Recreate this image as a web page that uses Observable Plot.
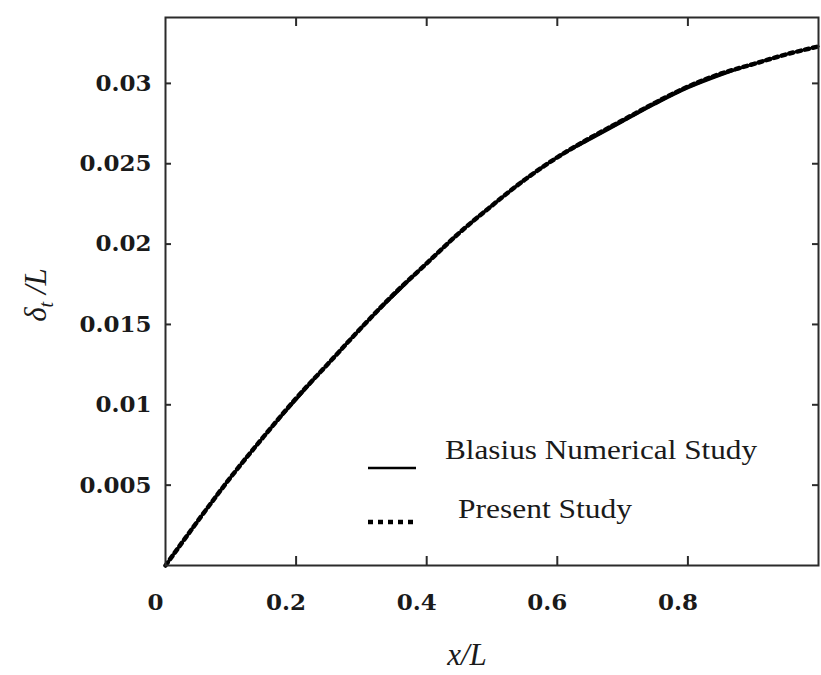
<!DOCTYPE html>
<html>
<head>
<meta charset="utf-8">
<script src="https://cdn.jsdelivr.net/npm/d3@7"></script>
<script src="https://cdn.jsdelivr.net/npm/@observablehq/plot@0.6"></script>
<style>
  html, body { margin: 0; padding: 0; background: #fff; }
  #chart { position: relative; width: 821px; height: 675px; }
</style>
</head>
<body>
<div id="chart"></div>
<script>
// x/L positions
const xPos = [0, 0.05, 0.1, 0.15, 0.2, 0.25, 0.3, 0.35, 0.4, 0.45, 0.5, 0.55, 0.6, 0.65, 0.7, 0.75, 0.8, 0.85, 0.9, 0.95, 1.0];
// Blasius numerical solution, delta_t / L
const blasius = [0, 0.0028, 0.0055, 0.0080, 0.0103, 0.0126, 0.0148, 0.0168, 0.0188, 0.0207, 0.0224, 0.0240, 0.0254, 0.0265, 0.0276, 0.0287, 0.0297, 0.0305, 0.0312, 0.0318, 0.0323];
// Present study, delta_t / L
const present = [0, 0.0028, 0.0055, 0.0080, 0.0104, 0.0126, 0.0148, 0.0169, 0.0188, 0.0207, 0.0224, 0.0240, 0.0254, 0.0266, 0.0277, 0.0288, 0.0298, 0.0306, 0.0312, 0.0318, 0.0323];
// tick values
const xTickLabels = [0, 0.2, 0.4, 0.6, 0.8];
const xTickMarks = [0.2, 0.4, 0.6, 0.8];
const yTicks = [0.005, 0.01, 0.015, 0.02, 0.025, 0.03];
// legend entries
const legendLabels = ["Blasius Numerical Study", "Present Study"];

const rows = xPos.map((x, i) => ({x, blasius: blasius[i], present: present[i]}));

const W = 821, H = 675, mL = 165, mR = 3, mT = 17, mB = 110;
const innerW = W - mL - mR, innerH = H - mT - mB;
const ink = "#2b2b2b";
const tickFont = "'DejaVu Serif', serif";

const plot = Plot.plot({
  width: W, height: H,
  marginLeft: mL, marginRight: mR, marginTop: mT, marginBottom: mB,
  x: {domain: [0, 1]},
  y: {domain: [0, 0.0341]},
  style: {fontFamily: "'Liberation Serif', 'DejaVu Serif', serif", color: "#1a1a1a", background: "#fff"},
  marks: [
    Plot.axisX(xTickLabels, {tickSize: 0, tickPadding: 28, fontSize: 23, dx: -10, tickFormat: d => String(d), label: null}),
    Plot.axisY(yTicks, {tickSize: 0, tickPadding: 14, fontSize: 23, tickFormat: d => String(d), label: null}),
    Plot.tickX(xTickMarks, {x: d => d, insetTop: innerH - 9, stroke: ink, strokeWidth: 2}),
    Plot.tickX(xTickMarks, {x: d => d, insetBottom: innerH - 9, stroke: ink, strokeWidth: 2}),
    Plot.tickY(yTicks, {y: d => d, insetRight: innerW - 6, stroke: ink, strokeWidth: 2}),
    Plot.tickY(yTicks, {y: d => d, insetLeft: innerW - 6, stroke: ink, strokeWidth: 2}),
    Plot.line(rows, {x: "x", y: "blasius", stroke: "#000", strokeWidth: 2.4, curve: "catmull-rom"}),
    Plot.line(rows, {x: "x", y: "present", stroke: "#000", strokeWidth: 4.5, strokeDasharray: "4,4", curve: "catmull-rom"}),
    Plot.frame({stroke: ink, strokeWidth: 2})
  ]
});

document.getElementById("chart").appendChild(plot);

const svg = d3.select(plot);
svg.selectAll("g[aria-label='x-axis tick label'], g[aria-label='y-axis tick label']")
  .attr("font-weight", "bold")
  .attr("font-family", tickFont);
svg.selectAll("g[aria-label='x-axis tick label'] text, g[aria-label='y-axis tick label'] text")
  .attr("font-weight", "bold")
  .attr("font-family", tickFont);

// axis titles
svg.append("text")
  .attr("x", 467).attr("y", 665)
  .attr("text-anchor", "middle")
  .attr("font-family", "'Liberation Serif', serif")
  .attr("font-style", "italic")
  .attr("font-size", 31)
  .attr("fill", "#1a1a1a")
  .text("x/L");

const yt = svg.append("text")
  .attr("transform", "translate(46,295) rotate(-90)")
  .attr("text-anchor", "middle")
  .attr("font-family", "'Liberation Serif', serif")
  .attr("font-style", "italic")
  .attr("font-size", 31)
  .attr("fill", "#1a1a1a");
yt.append("tspan").text("δ");
yt.append("tspan").attr("font-size", 20).attr("dy", 7).text("t");
yt.append("tspan").attr("dy", -7).text(" /L");

// legend
const lg = svg.append("g").attr("font-family", "'Liberation Serif', serif").attr("font-size", 28)
  .attr("fill", "#1a1a1a").attr("text-anchor", "start");
lg.append("line").attr("x1", 368).attr("x2", 416).attr("y1", 468).attr("y2", 468)
  .attr("stroke", "#000").attr("stroke-width", 2.5);
lg.append("line").attr("x1", 368).attr("x2", 414).attr("y1", 522).attr("y2", 522)
  .attr("stroke", "#000").attr("stroke-width", 4.5).attr("stroke-dasharray", "5,5");
lg.append("text").attr("x", 445).attr("y", 459).attr("textLength", 312).attr("lengthAdjust", "spacingAndGlyphs").text(legendLabels[0]);
lg.append("text").attr("x", 458).attr("y", 518).attr("textLength", 174).attr("lengthAdjust", "spacingAndGlyphs").text(legendLabels[1]);
</script>
</body>
</html>
